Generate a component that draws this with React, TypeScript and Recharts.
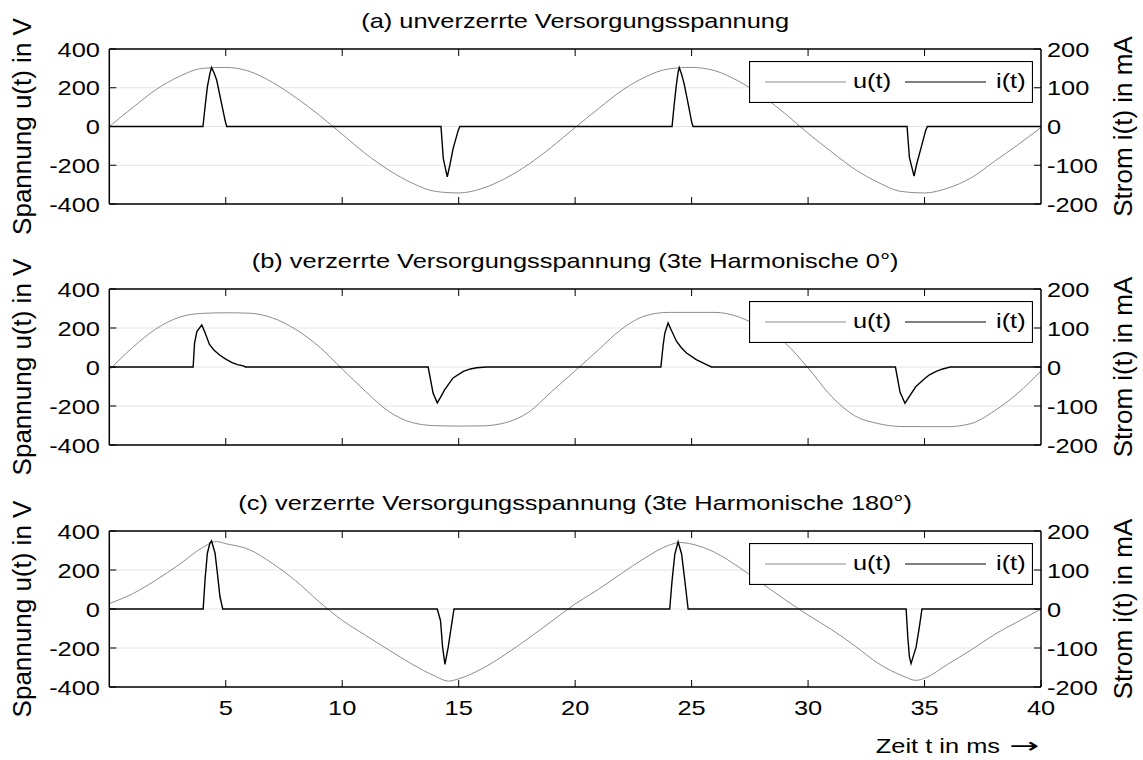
import React from 'react';
import { LineChart, Line, XAxis, YAxis, CartesianGrid, Legend } from 'recharts';

// Zeit in ms, Spannung in V, Strom in mA
const tU = [
  0, 1, 2, 3, 4, 5, 6, 7, 8, 9, 10, 11, 12, 13, 14, 15, 16, 17, 18, 19, 20,
  21, 22, 23, 24, 25, 26, 27, 28, 29, 30, 31, 32, 33, 34, 35, 36, 37, 38, 39, 40
];

const uA = [
  0, 97, 190, 258, 300, 305, 285, 228, 150, 60, -40,
  -140, -225, -292, -335, -343, -320, -268, -195, -105, -5,
  92, 185, 255, 297, 305, 288, 235, 160, 68, -35,
  -130, -220, -288, -335, -343, -318, -265, -180, -95, -5
];

const uB = [
  -15, 100, 195, 255, 275, 278, 276, 252, 193, 105, -10,
  -125, -228, -285, -301, -303, -302, -286, -232, -125, -20,
  88, 195, 262, 280, 280, 280, 258, 200, 125, -5,
  -150, -250, -290, -305, -306, -306, -290, -225, -135, -20
];

const tUC = [
  0, 1, 2, 3, 4, 4.6, 5, 6, 7, 8, 9, 10, 11, 12, 13, 14, 14.55, 15, 16, 17, 18, 19, 20,
  21, 22, 23, 24, 24.5, 25, 26, 27, 28, 29, 30, 31, 32, 33, 34, 34.65, 35, 36, 37, 38, 39, 40
];
const uC = [
  28, 78, 148, 228, 315, 346, 335, 305, 234, 145, 38, -58,
  -135, -210, -283, -345, -370, -358, -306, -233, -150, -62, 26,
  101, 183, 262, 326, 341, 333, 290, 217, 133, 49, -31,
  -105, -188, -278, -340, -366, -355, -283, -210, -131, -65, 0
];

const tIA = [
  0, 4.02, 4.11, 4.21, 4.32, 4.39, 4.5, 4.61, 4.82, 4.97, 5.04,
  14.24, 14.34, 14.51, 14.62, 14.76, 14.98, 15.05,
  24.16, 24.25, 24.34, 24.42, 24.47, 24.57, 24.68, 24.88, 25.0, 25.06,
  34.25, 34.35, 34.55, 34.65, 34.85, 35.05, 35.12, 40
];
const iA = [
  0, 0, 50, 102, 137, 152, 138, 120, 59, 16, 0,
  0, -83, -130, -100, -57, -10, 0,
  0, 55, 105, 140, 152, 135, 110, 50, 12, 0,
  0, -80, -128, -100, -55, -10, 0, 0
];

const tIB = [
  0, 3.6, 3.66, 3.76, 3.97, 4.1, 4.3, 4.5, 4.75, 5.0, 5.25, 5.5, 5.75, 5.85,
  13.69, 13.9, 14.08, 14.2, 14.4, 14.76, 15.2, 15.5, 15.77, 16.2,
  23.68, 23.78, 23.85, 23.99, 24.1, 24.35, 24.55, 24.78, 25.2, 25.64, 25.85,
  33.75, 33.95, 34.16, 34.3, 34.63, 35.0, 35.21, 35.5, 35.78, 36.1, 40
];
const iB = [
  0, 0, 61, 91, 108, 90, 58, 43, 30, 20, 12, 6, 3, 0,
  0, -67, -92, -80, -58, -28, -11, -5, -2, 0,
  0, 57, 87, 113, 98, 66, 50, 36, 19, 6, 0,
  0, -65, -93, -80, -50, -30, -20, -11, -5, 0, 0
];

const tIC = [
  0, 4.03, 4.11, 4.21, 4.32, 4.39, 4.54, 4.64, 4.75, 4.87,
  14.08, 14.22, 14.31, 14.41, 14.55, 14.7, 14.8,
  24.06, 24.16, 24.28, 24.42, 24.57, 24.71, 24.85,
  34.21, 34.28, 34.35, 34.42, 34.64, 34.78, 34.89, 40
];
const iC = [
  0, 0, 75, 143, 169, 175, 143, 92, 32, 0,
  0, -30, -98, -142, -98, -38, 0,
  0, 72, 141, 172, 141, 72, 0,
  0, -71, -122, -140, -97, -45, 0, 0
];

const xTicks = [5, 10, 15, 20, 25, 30, 35, 40];
const uTicks = [-400, -200, 0, 200, 400];
const iTicks = [-200, -100, 0, 100, 200];
const titles = [
  '(a) unverzerrte Versorgungsspannung',
  '(b) verzerrte Versorgungsspannung (3te Harmonische 0°)',
  '(c) verzerrte Versorgungsspannung (3te Harmonische 180°)'
];
const legendNames = ['u(t)', 'i(t)'];

const FONT = '"Liberation Sans", Arial, Helvetica, sans-serif';
const SX = 1.21; // Schrift im Original horizontal gestreckt
const U_COLOR = '#8c8c8c';
const PLOT_TOP = 49;
const LEFT = 109.3;
const RIGHT = 1041;
const TICK = 7;

const pts = (t: number[], v: number[]) => t.map((x, k) => ({ t: x, v: v[k] }));

type STextProps = {
  x: number;
  y: number;
  anchor?: 'start' | 'middle' | 'end';
  size?: number;
  sx?: number;
  rot?: boolean;
  family?: string;
  children: React.ReactNode;
};

function SText({ x, y, anchor = 'start', size = 21, sx = SX, rot = false, family = FONT, children }: STextProps) {
  const tf = `translate(${x},${y}) scale(${sx},1)` + (rot ? ' rotate(-90)' : '');
  return (
    <text transform={tf} x={0} y={0} textAnchor={anchor} fontFamily={family} fontSize={size} fill="#000">
      {children}
    </text>
  );
}

function LegendBox() {
  return (
    <svg width={284} height={42} style={{ display: 'block' }}>
      <rect x={0.5} y={0.5} width={283} height={41} fill="#fff" stroke="#000" strokeWidth={1.2} />
      <line x1={16} y1={21} x2={97} y2={21} stroke={U_COLOR} strokeWidth={1} />
      <SText x={104} y={26.5}>{legendNames[0]}</SText>
      <line x1={156} y1={21} x2={237} y2={21} stroke="#000" strokeWidth={1.2} />
      <SText x={247} y={26.5}>{legendNames[1]}</SText>
    </svg>
  );
}

const axisStyle = { stroke: '#000', strokeWidth: 1.5 };

type PanelProps = {
  title: string;
  uData: { t: number; v: number }[];
  iData: { t: number; v: number }[];
  top: number;
  plotH: number;
  last?: boolean;
};

function Panel({ title, uData, iData, top, plotH, last = false }: PanelProps) {
  const axisH = last ? 73 : 30;
  const h = PLOT_TOP + plotH + axisH;
  const bottomY = PLOT_TOP + plotH;
  const midY = PLOT_TOP + plotH / 2;
  const innerTicks = xTicks.slice(0, 7);

  // Ticks zeigen nach innen, wie im Original
  const bottomTick = (p: any) => (
    <g>
      <line x1={p.x} x2={p.x} y1={bottomY} y2={bottomY - TICK} stroke="#000" />
      {last && (
        <SText x={p.x} y={bottomY + 28} anchor="middle">
          {p.payload.value}
        </SText>
      )}
    </g>
  );
  const topTick = (p: any) => <line x1={p.x} x2={p.x} y1={PLOT_TOP} y2={PLOT_TOP + TICK} stroke="#000" />;
  const leftTick = (p: any) => (
    <g>
      <line x1={LEFT} x2={LEFT + TICK} y1={p.y} y2={p.y} stroke="#000" />
      <SText x={LEFT - 9.3} y={p.y + 7.5} anchor="end">
        {p.payload.value}
      </SText>
    </g>
  );
  const rightTick = (p: any) => (
    <g>
      <line x1={RIGHT - TICK} x2={RIGHT} y1={p.y} y2={p.y} stroke="#000" />
      <SText x={RIGHT + 6} y={p.y + 7.5} anchor="start">
        {p.payload.value}
      </SText>
    </g>
  );

  return (
    <div style={{ position: 'absolute', left: 0, top }}>
      <LineChart width={1143} height={h} margin={{ top: PLOT_TOP - 1, right: 42, bottom: 0, left: 49.3 }}>
        <CartesianGrid xAxisId="b" yAxisId="u" vertical={false} stroke="#e4e4e4" />
        <XAxis
          xAxisId="b"
          type="number"
          dataKey="t"
          domain={[0, 40]}
          allowDataOverflow
          ticks={last ? xTicks : innerTicks}
          interval={0}
          height={axisH}
          tickSize={0}
          tickMargin={0}
          axisLine={axisStyle}
          tickLine={false}
          tick={bottomTick}
          label={
            last
              ? {
                  content: () => (
                    <g>
                      <SText x={1000} y={bottomY + 66} anchor="end">
                        Zeit t in ms
                      </SText>
                      <SText x={1009.5} y={bottomY + 66} sx={1.7} family='"DejaVu Sans", sans-serif'>
                        →
                      </SText>
                    </g>
                  )
                }
              : undefined
          }
        />
        <XAxis
          xAxisId="t"
          orientation="top"
          type="number"
          dataKey="t"
          domain={[0, 40]}
          allowDataOverflow
          ticks={innerTicks}
          interval={0}
          height={1}
          tickSize={0}
          tickMargin={0}
          tick={topTick}
          axisLine={axisStyle}
          tickLine={false}
          label={{
            content: () => (
              <SText x={(LEFT + RIGHT) / 2} y={PLOT_TOP - 21} anchor="middle">
                {title}
              </SText>
            )
          }}
        />
        <YAxis
          yAxisId="u"
          type="number"
          domain={[-400, 400]}
          allowDataOverflow
          ticks={uTicks}
          interval={0}
          width={60}
          tickSize={0}
          tickMargin={0}
          axisLine={axisStyle}
          tickLine={false}
          tick={leftTick}
          label={{
            content: () => (
              <SText x={31} y={midY} anchor="middle" size={26} sx={1} rot>
                Spannung u(t) in V
              </SText>
            )
          }}
        />
        <YAxis
          yAxisId="i"
          orientation="right"
          type="number"
          domain={[-200, 200]}
          allowDataOverflow
          ticks={iTicks}
          interval={0}
          width={60}
          tickSize={0}
          tickMargin={0}
          axisLine={axisStyle}
          tickLine={false}
          tick={rightTick}
          label={{
            content: () => (
              <SText x={1132} y={midY} anchor="middle" size={26} sx={1} rot>
                Strom i(t) in mA
              </SText>
            )
          }}
        />
        <Line
          xAxisId="b"
          yAxisId="u"
          data={uData}
          dataKey="v"
          name="u(t)"
          type="monotone"
          stroke={U_COLOR}
          strokeWidth={1}
          dot={false}
          isAnimationActive={false}
        />
        <Line
          xAxisId="b"
          yAxisId="i"
          data={iData}
          dataKey="v"
          name="i(t)"
          type="linear"
          stroke="#000"
          strokeWidth={1.4}
          dot={false}
          isAnimationActive={false}
        />
        <Legend
          layout="horizontal"
          verticalAlign="middle"
          align="center"
          content={() => <LegendBox />}
          wrapperStyle={{ left: 749, top: PLOT_TOP + 12, width: 284, height: 42, lineHeight: 0 }}
        />
      </LineChart>
    </div>
  );
}

export default function App() {
  return (
    <div style={{ position: 'absolute', left: 0, top: 0, width: 1143, height: 760, background: '#fff' }}>
      <Panel title={titles[0]} uData={pts(tU, uA)} iData={pts(tIA, iA)} top={0} plotH={155} />
      <Panel title={titles[1]} uData={pts(tU, uB)} iData={pts(tIB, iB)} top={240} plotH={156} />
      <Panel title={titles[2]} uData={pts(tUC, uC)} iData={pts(tIC, iC)} top={482} plotH={156} last />
    </div>
  );
}
